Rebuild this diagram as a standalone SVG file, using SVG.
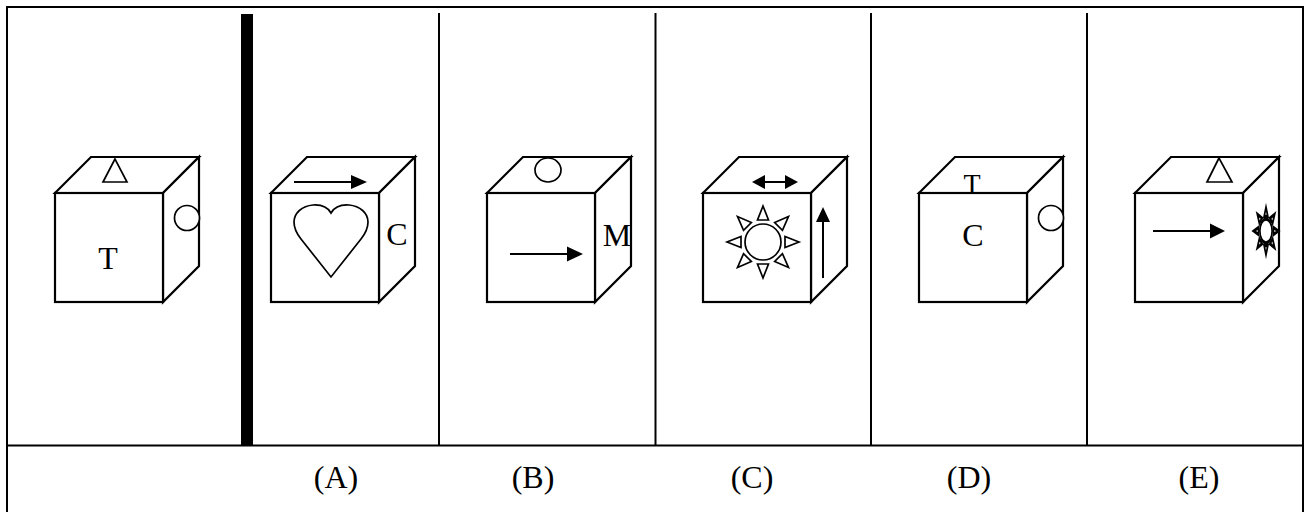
<svg xmlns="http://www.w3.org/2000/svg" xmlns:xlink="http://www.w3.org/1999/xlink" width="1305" height="512" viewBox="0 0 1305 512">
<style>
.ln{stroke:#000;stroke-width:2;fill:none}
.face{stroke:#000;stroke-width:2.2;fill:#fff;stroke-linejoin:miter}
.sym{stroke:#000;stroke-width:1.7;fill:#fff}
.blk{fill:#000;stroke:none}
.lbl{font-family:"Liberation Serif","Times New Roman",serif;font-size:32px;fill:#000;text-anchor:middle}
</style>
<defs>
<g id="cube">
<polygon class="face" points="0,0 36,-36 144,-36 108,0"/>
<polygon class="face" points="108,0 144,-36 144,73 108,109"/>
<rect class="face" x="0" y="0" width="108" height="109"/>
</g>
<polygon id="ray" points="0,-36 -5.5,-22 5.5,-22"/>
<g id="sun">
<circle cx="0" cy="0" r="18"/>
<use xlink:href="#ray"/>
<use xlink:href="#ray" transform="rotate(45)"/>
<use xlink:href="#ray" transform="rotate(90)"/>
<use xlink:href="#ray" transform="rotate(135)"/>
<use xlink:href="#ray" transform="rotate(180)"/>
<use xlink:href="#ray" transform="rotate(225)"/>
<use xlink:href="#ray" transform="rotate(270)"/>
<use xlink:href="#ray" transform="rotate(315)"/>
</g>
</defs>
<rect x="0" y="0" width="1305" height="512" fill="#fff"/>
<g id="frame">
<polyline class="ln" points="7,512 7,7 1303,7 1303,512"/>
<line class="ln" x1="7" y1="445.5" x2="1303" y2="445.5"/>
<rect class="blk" x="241" y="14" width="12" height="431"/>
<line class="ln" x1="439" y1="13" x2="439" y2="445"/>
<line class="ln" x1="655.5" y1="13" x2="655.5" y2="445"/>
<line class="ln" x1="871" y1="13" x2="871" y2="445"/>
<line class="ln" x1="1087" y1="13" x2="1087" y2="445"/>
</g>
<g id="connectors"></g>
<g id="cube-question">
<use xlink:href="#cube" x="55" y="193"/>
<polygon class="sym" points="115,159 103,182 127,182"/>
<circle class="sym" cx="187" cy="218" r="12.5"/>
<text class="lbl" x="108" y="269">T</text>
</g>
<g id="cube-A">
<use xlink:href="#cube" x="271" y="193"/>
<line class="ln" x1="294" y1="182" x2="353" y2="182"/>
<polygon class="blk" points="351,175 367,182 351,189"/>
<path class="sym" d="M331,213 C327,206 320,204.5 313,205 C302,206 294,213 294,222 C294,229 297,234 301,239 L331,277 L361,239 C365,234 368,229 368,222 C368,213 360,206 349,205 C342,204.5 335,206 331,213 Z"/>
<text class="lbl" x="397" y="245">C</text>
<text class="lbl" x="336" y="488">(A)</text>
</g>
<g id="cube-B">
<use xlink:href="#cube" x="487" y="193"/>
<ellipse class="sym" cx="548" cy="170" rx="13" ry="12"/>
<line class="ln" x1="510" y1="254" x2="569" y2="254"/>
<polygon class="blk" points="567,246.5 583,254 567,261.5"/>
<text class="lbl" x="617" y="246">M</text>
<text class="lbl" x="533" y="488">(B)</text>
</g>
<g id="cube-C">
<use xlink:href="#cube" x="703" y="193"/>
<line class="ln" x1="763" y1="182" x2="787" y2="182"/>
<polygon class="blk" points="752,182 765,175 765,189"/>
<polygon class="blk" points="798,182 785,175 785,189"/>
<use xlink:href="#sun" class="sym" transform="translate(763,242)"/>
<line class="ln" x1="823" y1="278" x2="823" y2="220"/>
<polygon class="blk" points="823,207 816,222 830,222"/>
<text class="lbl" x="752" y="488">(C)</text>
</g>
<g id="cube-D">
<use xlink:href="#cube" x="919" y="193"/>
<text class="lbl" x="972" y="193" style="font-size:28px">T</text>
<text class="lbl" x="973" y="246">C</text>
<circle class="sym" cx="1051" cy="218" r="12.5"/>
<text class="lbl" x="969" y="488">(D)</text>
</g>
<g id="cube-E">
<use xlink:href="#cube" x="1135" y="193"/>
<polygon class="sym" points="1219,158 1207,182 1232,182"/>
<line class="ln" x1="1153" y1="231" x2="1212" y2="231"/>
<polygon class="blk" points="1210,223.5 1225,231 1210,238.5"/>
<g transform="translate(1266,231) scale(0.34,0.66)">
<use xlink:href="#sun" style="stroke:#000;stroke-width:5;fill:#fff"/>
</g>
<text class="lbl" x="1199" y="488">(E)</text>
</g>
</svg>
